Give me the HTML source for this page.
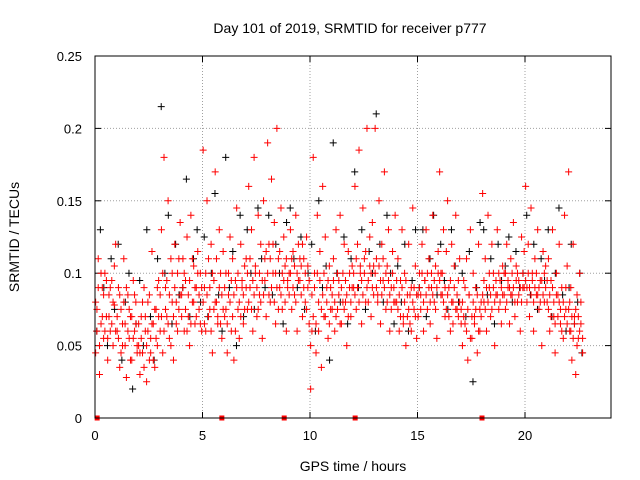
<!DOCTYPE html>
<html><head><meta charset="utf-8"><style>
html,body{margin:0;padding:0;background:#fff;}
svg{display:block;font-family:"Liberation Sans",sans-serif;}
</style></head><body>
<svg id="chart" width="640" height="480"></svg>
<script>
const redValues=[
.045,.075,.11,.03,.065,.09,.055,.10,.07,.04,.085,.06,.095,.05,.078,.12,
.06,.09,.035,.075,.05,.11,.065,.028,.085,.055,.07,.04,.095,.06,.08,.045,
.05,.03,.07,.045,.09,.06,.025,.08,.04,.055,.115,.065,.035,.075,.05,.095,
.06,.13,.045,.18,.09,.07,.15,.055,.11,.08,.04,.12,.065,.1,.075,.135,
.085,.11,.06,.095,.125,.07,.05,.14,.08,.105,.065,.09,.115,.075,.1,.06,
.185,.09,.06,.15,.11,.075,.12,.045,.095,.17,.08,.065,.13,.1,.055,.115,
.07,.1,.045,.085,.125,.06,.11,.04,.095,.145,.075,.055,.12,.09,.065,.105,
.11,.075,.16,.09,.13,.06,.18,.1,.07,.14,.085,.12,.055,.15,.095,.115,
.19,.12,.08,.165,.1,.135,.065,.2,.11,.09,.145,.075,.125,.105,.06,.095,
.1,.13,.075,.115,.085,.14,.06,.12,.095,.105,.07,.11,.08,.125,.09,.065,
.02,.06,.18,.1,.045,.14,.08,.115,.035,.16,.07,.125,.09,.055,.105,.075,
.085,.11,.06,.13,.075,.095,.14,.065,.1,.12,.08,.05,.115,.09,.07,.105,
.09,.16,.075,.12,.185,.1,.065,.145,.11,.08,.2,.095,.125,.07,.135,.105,
.2,.11,.085,.15,.065,.12,.095,.17,.075,.105,.13,.06,.09,.115,.08,.14,
.08,.11,.06,.095,.13,.07,.1,.05,.085,.12,.065,.09,.145,.075,.105,.055,
.07,.1,.085,.12,.06,.095,.13,.075,.11,.065,.09,.14,.08,.105,.055,.115,
.17,.1,.085,.13,.07,.115,.15,.09,.06,.12,.08,.105,.14,.075,.095,.11,
.075,.05,.095,.065,.11,.04,.085,.13,.055,.1,.07,.09,.045,.12,.06,.08,
.155,.08,.11,.06,.14,.09,.07,.12,.1,.05,.085,.13,.075,.095,.065,.105,
.1,.075,.12,.09,.065,.11,.085,.135,.07,.105,.08,.095,.06,.125,.09,.115,
.16,.09,.12,.07,.145,.1,.06,.11,.085,.13,.075,.095,.05,.115,.08,.105,
.08,.11,.06,.095,.13,.07,.045,.1,.085,.12,.065,.09,.055,.14,.075,.105,
.17,.06,.09,.04,.12,.07,.03,.085,.055,.1,.065,.045];
const redValues2=[
.08,.06,.09,.05,.1,.07,.085,.06,.095,.055,.07,.09,.065,.08,.105,.06,
.07,.055,.085,.045,.065,.08,.05,.09,.06,.075,.04,.07,.055,.085,.065,.05,
.065,.045,.055,.08,.035,.07,.05,.06,.085,.045,.065,.04,.075,.055,.09,.07,
.085,.07,.1,.06,.075,.095,.065,.085,.05,.1,.07,.09,.08,.06,.11,.085,
.07,.09,.1,.075,.06,.085,.095,.065,.11,.08,.09,.07,.1,.085,.065,.09,
.08,.065,.1,.085,.07,.09,.06,.1,.075,.08,.11,.07,.09,.065,.085,.075,
.09,.075,.065,.1,.08,.095,.07,.085,.06,.09,.1,.08,.07,.095,.085,.075,
.09,.1,.08,.11,.075,.095,.085,.105,.09,.075,.1,.08,.095,.085,.11,.07,
.1,.085,.11,.09,.12,.08,.1,.09,.075,.115,.085,.1,.095,.08,.11,.09,
.085,.1,.11,.09,.105,.08,.1,.095,.11,.085,.12,.09,.1,.075,.105,.095,
.05,.085,.07,.09,.065,.1,.06,.095,.075,.085,.1,.07,.08,.095,.065,.09,
.075,.095,.08,.07,.1,.085,.065,.09,.08,.075,.095,.085,.07,.1,.08,.09,
.1,.085,.11,.09,.08,.105,.095,.085,.1,.115,.09,.08,.105,.1,.09,.085,
.1,.09,.08,.105,.095,.085,.11,.09,.1,.08,.095,.085,.075,.1,.09,.08,
.095,.075,.085,.07,.09,.065,.08,.095,.07,.075,.085,.06,.08,.09,.07,.085,
.085,.09,.075,.1,.08,.095,.085,.1,.09,.08,.1,.085,.095,.075,.09,.1,
.095,.085,.1,.08,.09,.075,.085,.07,.095,.08,.065,.09,.075,.085,.07,.08,
.065,.08,.07,.09,.06,.075,.085,.055,.07,.08,.065,.075,.085,.06,.075,.07,
.085,.095,.075,.09,.08,.1,.085,.075,.09,.08,.095,.085,.1,.08,.09,.085,
.085,.1,.08,.095,.09,.085,.1,.09,.08,.095,.1,.085,.09,.08,.1,.09,
.095,.08,.1,.09,.085,.095,.08,.09,.1,.085,.09,.08,.095,.085,.1,.09,
.095,.075,.085,.07,.09,.08,.065,.085,.07,.08,.075,.06,.08,.07,.09,.065,
.075,.08,.06,.07,.055,.065,.075,.05,.07,.06,.08,.055];
const redTimes=[
.03,.09,.15,.21,.28,.34,.40,.46,.53,.59,.65,.71,.78,.84,.90,.96,
1.03,1.09,1.15,1.21,1.28,1.34,1.40,1.46,1.53,1.59,1.65,1.71,1.78,1.84,1.90,1.96,
2.03,2.09,2.15,2.21,2.28,2.34,2.40,2.46,2.53,2.59,2.65,2.71,2.78,2.84,2.90,2.96,
3.03,3.09,3.15,3.21,3.28,3.34,3.40,3.46,3.53,3.59,3.65,3.71,3.78,3.84,3.90,3.96,
4.03,4.09,4.15,4.21,4.28,4.34,4.40,4.46,4.53,4.59,4.65,4.71,4.78,4.84,4.90,4.96,
5.03,5.09,5.15,5.21,5.28,5.34,5.40,5.46,5.53,5.59,5.65,5.71,5.78,5.84,5.90,5.96,
6.03,6.09,6.15,6.21,6.28,6.34,6.40,6.46,6.53,6.59,6.65,6.71,6.78,6.84,6.90,6.96,
7.03,7.09,7.15,7.21,7.28,7.34,7.40,7.46,7.53,7.59,7.65,7.71,7.78,7.84,7.90,7.96,
8.03,8.09,8.15,8.21,8.28,8.34,8.40,8.46,8.53,8.59,8.65,8.71,8.78,8.84,8.90,8.96,
9.03,9.09,9.15,9.21,9.28,9.34,9.40,9.46,9.53,9.59,9.65,9.71,9.78,9.84,9.90,9.96,
10.03,10.09,10.15,10.21,10.28,10.34,10.40,10.46,10.53,10.59,10.65,10.71,10.78,10.84,10.90,10.96,
11.03,11.09,11.15,11.21,11.28,11.34,11.40,11.46,11.53,11.59,11.65,11.71,11.78,11.84,11.90,11.96,
12.03,12.09,12.15,12.21,12.28,12.34,12.40,12.46,12.53,12.59,12.65,12.71,12.78,12.84,12.90,12.96,
13.03,13.09,13.15,13.21,13.28,13.34,13.40,13.46,13.53,13.59,13.65,13.71,13.78,13.84,13.90,13.96,
14.03,14.09,14.15,14.21,14.28,14.34,14.40,14.46,14.53,14.59,14.65,14.71,14.78,14.84,14.90,14.96,
15.03,15.09,15.15,15.21,15.28,15.34,15.40,15.46,15.53,15.59,15.65,15.71,15.78,15.84,15.90,15.96,
16.03,16.09,16.15,16.21,16.28,16.34,16.40,16.46,16.53,16.59,16.65,16.71,16.78,16.84,16.90,16.96,
17.03,17.09,17.15,17.21,17.28,17.34,17.40,17.46,17.53,17.59,17.65,17.71,17.78,17.84,17.90,17.96,
18.03,18.09,18.15,18.21,18.28,18.34,18.40,18.46,18.53,18.59,18.65,18.71,18.78,18.84,18.90,18.96,
19.03,19.09,19.15,19.21,19.28,19.34,19.40,19.46,19.53,19.59,19.65,19.71,19.78,19.84,19.90,19.96,
20.03,20.09,20.15,20.21,20.28,20.34,20.40,20.46,20.53,20.59,20.65,20.71,20.78,20.84,20.90,20.96,
21.03,21.09,21.15,21.21,21.28,21.34,21.40,21.46,21.53,21.59,21.65,21.71,21.78,21.84,21.90,21.96,
22.03,22.08,22.13,22.18,22.24,22.30,22.36,22.42,22.48,22.54,22.60,22.68];
const blackValues=[
.06,.13,.09,.05,.11,.075,.12,.04,.08,.1,.02,.065,.095,.05,.13,.07,.04,.11,
.215,.1,.14,.065,.12,.085,.09,.165,.07,.11,.13,.08,.125,.07,.1,.155,.085,.06,
.18,.09,.115,.05,.14,.07,.13,.1,.075,.145,.11,.09,.14,.085,.12,.1,.065,.135,
.145,.11,.09,.125,.075,.1,.12,.06,.15,.09,.105,.04,.19,.1,.08,.125,.065,.11,
.17,.09,.13,.075,.115,.1,.21,.12,.08,.14,.1,.065,.105,.08,.12,.06,.095,.13,
.09,.13,.07,.11,.14,.085,.12,.095,.075,.13,.105,.08,.1,.07,.115,.025,.09,.135,
.13,.085,.11,.065,.12,.095,.105,.125,.08,.115,.09,.1,.14,.085,.12,.075,.11,.095,
.13,.07,.1,.145,.085,.06,.09,.12,.065,.08,.1,.045];
const blackTimes=[
.08,.25,.41,.58,.75,.91,1.08,1.25,1.41,1.58,1.75,1.91,2.08,2.25,2.41,2.58,2.75,2.91,
3.08,3.25,3.41,3.58,3.75,3.91,4.08,4.25,4.41,4.58,4.75,4.91,5.08,5.25,5.41,5.58,5.75,5.91,
6.08,6.25,6.41,6.58,6.75,6.91,7.08,7.25,7.41,7.58,7.75,7.91,8.08,8.25,8.41,8.58,8.75,8.91,
9.08,9.25,9.41,9.58,9.75,9.91,10.08,10.25,10.41,10.58,10.75,10.91,11.08,11.25,11.41,11.58,11.75,11.91,
12.08,12.25,12.41,12.58,12.75,12.91,13.08,13.25,13.41,13.58,13.75,13.91,14.08,14.25,14.41,14.58,14.75,14.91,
15.08,15.25,15.41,15.58,15.75,15.91,16.08,16.25,16.41,16.58,16.75,16.91,17.08,17.25,17.41,17.58,17.75,17.91,
18.08,18.25,18.41,18.58,18.75,18.91,19.08,19.25,19.41,19.58,19.75,19.91,20.08,20.25,20.41,20.58,20.75,20.91,
21.08,21.25,21.41,21.58,21.75,21.91,22.05,22.15,22.3,22.45,22.55,22.65];
const markerTimes=[0.1,5.9,8.8,12.1,18.0];
const xTicks=[0,5,10,15,20];
const yTicks=[0,0.05,0.1,0.15,0.2,0.25];
const yTickLabels=["0","0.05","0.1","0.15","0.2","0.25"];

const L=95,R=611,T=56,B=418,XMAX=24,YMAX=0.25;
const xs=t=>L+(R-L)*t/XMAX;
const ys=v=>B-(B-T)*v/YMAX;
const svg=document.getElementById('chart');
const NS='http://www.w3.org/2000/svg';
function mk(tag,attrs,parent){const e=document.createElementNS(NS,tag);for(const k in attrs)e.setAttribute(k,attrs[k]);(parent||svg).appendChild(e);return e;}

xTicks.forEach(t=>{
  const x=xs(t);
  if(t>0){const g=mk('line',{x1:x,y1:T,x2:x,y2:B,stroke:'#a0a0a0','stroke-dasharray':'1,2','stroke-width':1});
  
  }
  mk('line',{x1:x,y1:B,x2:x,y2:B-6,stroke:'#000'});
  mk('line',{x1:x,y1:T,x2:x,y2:T+6,stroke:'#000'});
  const lb=mk('text',{x:x,y:B+22,'text-anchor':'middle','font-size':13,fill:'#000'});
  lb.textContent=t;
  
  
});
yTicks.forEach((v,i)=>{
  const y=ys(v);
  if(v>0&&v<YMAX){const g=mk('line',{x1:L,y1:y,x2:R,y2:y,stroke:'#a0a0a0','stroke-dasharray':'1,2','stroke-width':1});
  
  }
  mk('line',{x1:L,y1:y,x2:L+6,y2:y,stroke:'#000'});
  mk('line',{x1:R,y1:y,x2:R-6,y2:y,stroke:'#000'});
  const lb=mk('text',{x:L-13,y:y+5,'text-anchor':'end','font-size':13,fill:'#000'});
  lb.textContent=yTickLabels[i];
  
  
});

function plus(t,v,color,name){
  const x=xs(t),y=ys(v);
  const p=mk('path',{d:`M${x-3.5},${y}h7M${x},${y-3.5}v7`,stroke:color,'stroke-width':1,fill:'none'});
  
  
}
blackTimes.forEach((t,i)=>plus(t,blackValues[i],'#000','black-point'));
redTimes.forEach((t,i)=>plus(t,redValues2[i],'#ff0000','red-point-series2'));
redTimes.forEach((t,i)=>plus(t,redValues[i],'#ff0000','red-point'));
markerTimes.forEach(t=>{
  const r=mk('rect',{x:xs(t)-2.5,y:B-2.5,width:5,height:5,fill:'#ff0000'});
  
  
});

const border=mk('rect',{x:L,y:T,width:R-L,height:B-T,fill:'none',stroke:'#000','stroke-width':1});



const title=mk('text',{x:350,y:33,'text-anchor':'middle','font-size':14,fill:'#000'});
title.textContent='Day 101 of 2019, SRMTID for receiver p777';


const xl=mk('text',{x:353,y:471,'text-anchor':'middle','font-size':14,fill:'#000'});
xl.textContent='GPS time / hours';


const yl=mk('text',{x:0,y:0,'text-anchor':'middle','font-size':14,fill:'#000',transform:'translate(19,237) rotate(-90)'});
yl.textContent='SRMTID / TECUs';


</script>
</body></html>
